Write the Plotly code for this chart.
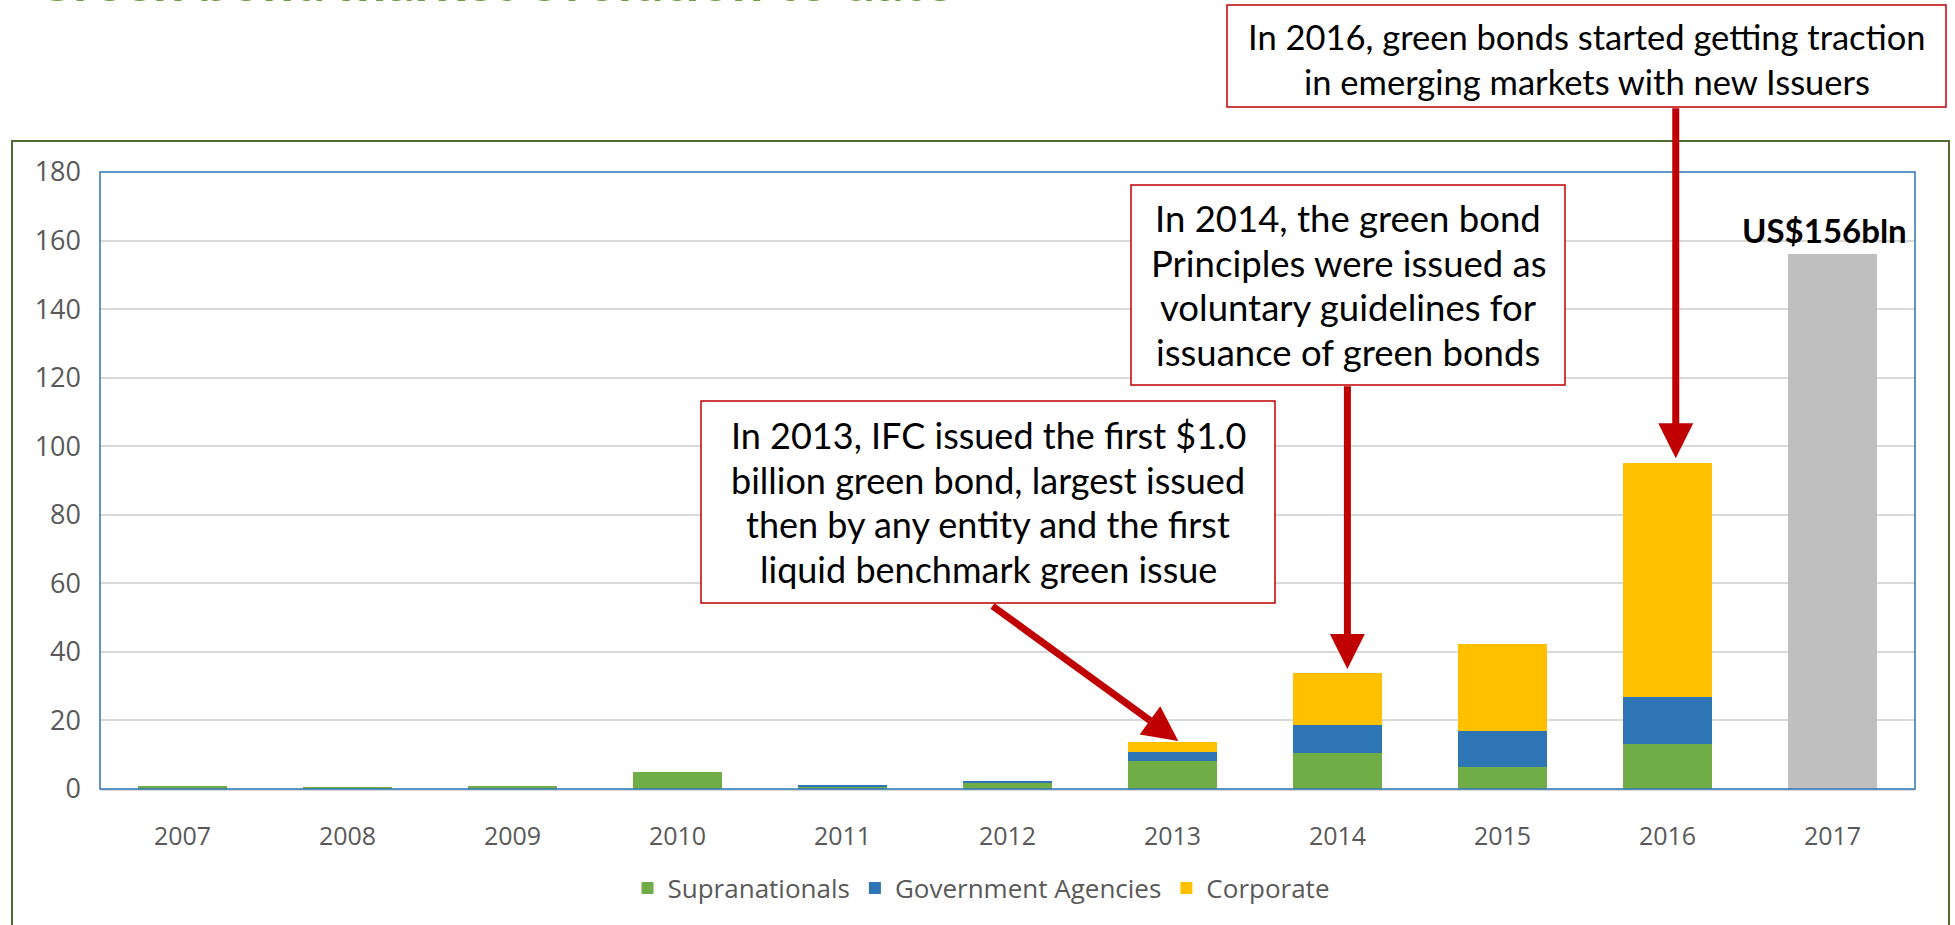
import plotly.graph_objects as go

years = ["2007", "2008", "2009", "2010", "2011", "2012", "2013", "2014", "2015", "2016", "2017"]
supranationals = [0.8, 0.4, 0.8, 4.9, 0.8, 1.9, 8.3, 10.6, 6.3, 13.1, None]
government_agencies = [0.0, 0.0, 0.0, 0.0, 0.4, 0.3, 2.6, 8.0, 10.5, 13.6, None]
corporate = [0.0, 0.0, 0.0, 0.0, 0.0, 0.0, 2.9, 15.2, 25.5, 68.3, None]
total_2017 = [None, None, None, None, None, None, None, None, None, None, 156]
y_ticks = [0, 20, 40, 60, 80, 100, 120, 140, 160, 180]

title_text = "Green bond market evolution to date"
label_2017 = "US$156bln"
note_2016 = ["In 2016, green bonds started getting traction", "in emerging markets with new Issuers"]
note_2014 = ["In 2014, the green bond", "Principles were issued as", "voluntary guidelines for", "issuance of green bonds"]
note_2013 = ["In 2013, IFC issued the first $1.0", "billion green bond, largest issued",
             "then by any entity and the first", "liquid benchmark green issue"]

W, H = 1955, 925
PL, PR, PT, PB = 100, 1915, 172, 789


def fx(px):
    return (px - PL) / (PR - PL)


def fy(py):
    return (PB - py) / (PB - PT)


GREEN = "#70AD47"
BLUE = "#2E75B6"
YELLOW = "#FFC000"
GRAY = "#BFBFBF"
RED = "#C00000"
ANN_FONT = "Lato"
TICK_FONT = "Open Sans"

fig = go.Figure()
fig.add_trace(go.Bar(x=years, y=supranationals, name="Supranationals", marker_color=GREEN, marker_line_width=0))
fig.add_trace(go.Bar(x=years, y=government_agencies, name="Government Agencies", marker_color=BLUE, marker_line_width=0))
fig.add_trace(go.Bar(x=years, y=corporate, name="Corporate", marker_color=YELLOW, marker_line_width=0))
fig.add_trace(go.Bar(x=years, y=total_2017, name="Total", marker_color=GRAY, marker_line_width=0, showlegend=False))

shapes = []
annotations = []

# outer green frame
shapes.append(dict(type="rect", xref="paper", yref="paper", x0=fx(12), x1=fx(1949), y0=fy(945), y1=fy(141),
                   line=dict(color="#4F6B2F", width=2), fillcolor="rgba(0,0,0,0)", layer="below"))
# plot area border
shapes.append(dict(type="rect", xref="paper", yref="paper", x0=0, x1=1, y0=0, y1=1,
                   line=dict(color=BLUE, width=1.5), fillcolor="rgba(0,0,0,0)", layer="above"))


def add_box(x0, x1, y0, y1, lines, centers, size):
    shapes.append(dict(type="rect", xref="paper", yref="paper", x0=fx(x0), x1=fx(x1), y0=fy(y1), y1=fy(y0),
                       line=dict(color=RED, width=1.5), fillcolor="white", layer="above"))
    cx = (x0 + x1) / 2
    for t, cy in zip(lines, centers):
        annotations.append(dict(text=t, xref="paper", yref="paper", x=fx(cx), y=fy(cy), xanchor="center",
                                yanchor="middle", showarrow=False, font=dict(family=ANN_FONT, size=size, color="black")))


add_box(1227, 1946, 5, 107, note_2016, [37, 81], 34.5)
add_box(1131, 1565, 185, 385, note_2014, [218, 263, 307, 352], 36.5)
add_box(701, 1275, 401, 603, note_2013, [435, 480, 524, 569], 36)


def add_arrow(x, y, ax, ay):
    annotations.append(dict(text="", x=x, y=y, ax=ax, ay=ay, xref="x", yref="y", axref="x", ayref="y",
                            showarrow=True, arrowhead=2, arrowsize=1.0, arrowwidth=7, arrowcolor=RED))


add_arrow(9.05, 96.5, 9.05, 199)
add_arrow(7.06, 35.0, 7.06, 117.9)
add_arrow(6.035, 14.0, 4.90, 53.7)

annotations.append(dict(text="<b>" + label_2017 + "</b>", x=9.95, y=156, xref="x", yref="y", xanchor="center",
                        yanchor="bottom", yshift=2, showarrow=False,
                        font=dict(family=ANN_FONT, size=33, color="black")))

annotations.append(dict(text="<b>" + title_text + "</b>", xref="paper", yref="paper", x=fx(31), y=fy(-21),
                        xanchor="left", yanchor="middle", showarrow=False,
                        font=dict(family=ANN_FONT, size=56, color="#6E9E3E")))

fig.update_layout(
    width=W, height=H,
    margin=dict(l=PL, r=W - PR, t=PT, b=H - PB, pad=0),
    barmode="stack", bargap=0.465,
    plot_bgcolor="white", paper_bgcolor="white",
    font=dict(family=TICK_FONT, size=25, color="#595959"),
    shapes=shapes, annotations=annotations,
    legend=dict(orientation="h", x=fx(981), xanchor="center", y=fy(888), yanchor="middle",
                font=dict(family=TICK_FONT, size=26, color="#595959"), traceorder="normal",
                itemwidth=30),
    xaxis=dict(type="category", showgrid=False, ticks="", ticklabelstandoff=24,
               showline=True, linecolor="#D9D9D9", linewidth=2),
    yaxis=dict(range=[0, 180], tickvals=y_ticks, showgrid=True, gridcolor="#D9D9D9", gridwidth=1.5,
               zeroline=False, ticks="", ticklabelstandoff=18, tickfont=dict(size=27)),
    showlegend=True,
)

fig.write_html("out.html", config={"displayModeBar": False},
               post_script="document.body.style.margin='0';")
